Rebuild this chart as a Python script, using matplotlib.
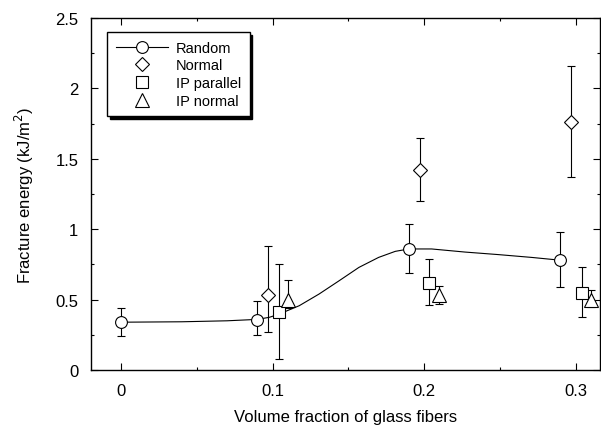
import matplotlib
matplotlib.use("Agg")
import matplotlib.pyplot as plt
from matplotlib.ticker import MultipleLocator

plt.rcParams['font.family'] = ['Liberation Sans', 'DejaVu Sans']

# Random (with fitted curve)
random_x = [0.0, 0.09, 0.19, 0.29]
random_y = [0.34, 0.355, 0.862, 0.78]
random_lo = [0.24, 0.25, 0.69, 0.59]
random_hi = [0.44, 0.49, 1.04, 0.98]

# curve
curve_x = [0.0, 0.04, 0.07, 0.09, 0.098, 0.1044, 0.1176, 0.1307, 0.1439,
           0.157, 0.170, 0.181, 0.19, 0.205, 0.227, 0.249, 0.271, 0.29]
curve_y = [0.34, 0.343, 0.35, 0.36, 0.375, 0.398, 0.457, 0.540, 0.634,
           0.729, 0.80, 0.843, 0.86, 0.86, 0.838, 0.82, 0.80, 0.78]

normal_x = [0.097, 0.197, 0.297]
normal_y = [0.53, 1.42, 1.76]
normal_lo = [0.27, 1.20, 1.37]
normal_hi = [0.88, 1.65, 2.16]

ippar_x = [0.104, 0.203, 0.304]
ippar_y = [0.41, 0.62, 0.55]
ippar_lo = [0.08, 0.46, 0.38]
ippar_hi = [0.75, 0.79, 0.73]

ipnorm_x = [0.11, 0.21, 0.31]
ipnorm_y = [0.50, 0.53, 0.50]
ipnorm_lo = [0.44, 0.47, 0.45]
ipnorm_hi = [0.64, 0.60, 0.57]


def errs(y, lo, hi):
    return [[v - l for v, l in zip(y, lo)], [h - v for v, h in zip(y, hi)]]


fig = plt.figure(figsize=(6.01, 4.31), dpi=100)
ax = fig.add_axes([0.151, 0.139, 0.847, 0.817])

ebkw = dict(fmt='none', ecolor='black', elinewidth=0.8, capsize=3,
            capthick=0.8, zorder=2)
mkw = dict(linestyle='none', markerfacecolor='white', markeredgecolor='black',
           markeredgewidth=0.8, zorder=3)

ax.errorbar(random_x, random_y, yerr=errs(random_y, random_lo, random_hi), **ebkw)
ax.errorbar(normal_x, normal_y, yerr=errs(normal_y, normal_lo, normal_hi), **ebkw)
ax.errorbar(ippar_x, ippar_y, yerr=errs(ippar_y, ippar_lo, ippar_hi), **ebkw)
ax.errorbar(ipnorm_x, ipnorm_y, yerr=errs(ipnorm_y, ipnorm_lo, ipnorm_hi), **ebkw)

ax.plot(curve_x, curve_y, color='black', linewidth=0.8, zorder=1)
ax.plot(random_x, random_y, marker='o', markersize=8.5, **mkw)
ax.plot(normal_x, normal_y, marker='D', markersize=7.5, **mkw)
ax.plot(ippar_x, ippar_y, marker='s', markersize=8, **mkw)
ax.plot(ipnorm_x, ipnorm_y, marker='^', markersize=10, **mkw)

h_random, = ax.plot([], [], color='black', linewidth=0.8, marker='o',
                    markersize=8.5, markerfacecolor='white',
                    markeredgecolor='black', markeredgewidth=0.8)
h_normal, = ax.plot([], [], marker='D', markersize=7.5, **mkw)
h_ippar, = ax.plot([], [], marker='s', markersize=8, **mkw)
h_ipnorm, = ax.plot([], [], marker='^', markersize=10, **mkw)

leg = ax.legend([h_random, h_normal, h_ippar, h_ipnorm],
                ['Random', 'Normal', 'IP parallel', 'IP normal'],
                loc='upper left', bbox_to_anchor=(0.032, 0.96),
                fontsize=10.5, handlelength=3.6, handletextpad=0.5,
                labelspacing=0.25, borderpad=0.6, borderaxespad=0,
                fancybox=False,
                shadow={'color': 'black', 'alpha': 1.0, 'ox': 2, 'oy': -2},
                framealpha=1, edgecolor='black')
leg.get_frame().set_linewidth(1.0)

ax.set_xlim(-0.02, 0.316)
ax.set_ylim(0, 2.5)
ax.xaxis.set_minor_locator(MultipleLocator(0.05))
ax.yaxis.set_minor_locator(MultipleLocator(0.25))
ax.set_xticks([0, 0.1, 0.2, 0.3])
ax.set_xticklabels(['0', '0.1', '0.2', '0.3'])
ax.set_yticks([0, 0.5, 1, 1.5, 2, 2.5])
ax.set_yticklabels(['0', '0.5', '1', '1.5', '2', '2.5'])
ax.tick_params(which='both', direction='in', top=True, right=True,
               labelsize=12, width=0.8, pad=9)
ax.tick_params(which='major', length=5)
ax.tick_params(which='minor', length=2.5)
for s in ax.spines.values():
    s.set_linewidth(1.0)

ax.set_xlabel('Volume fraction of glass fibers', fontsize=12, labelpad=8)
ax.set_ylabel('Fracture energy (kJ/m$^2$)', fontsize=12, labelpad=14)

fig.savefig('out.png', dpi=100)
